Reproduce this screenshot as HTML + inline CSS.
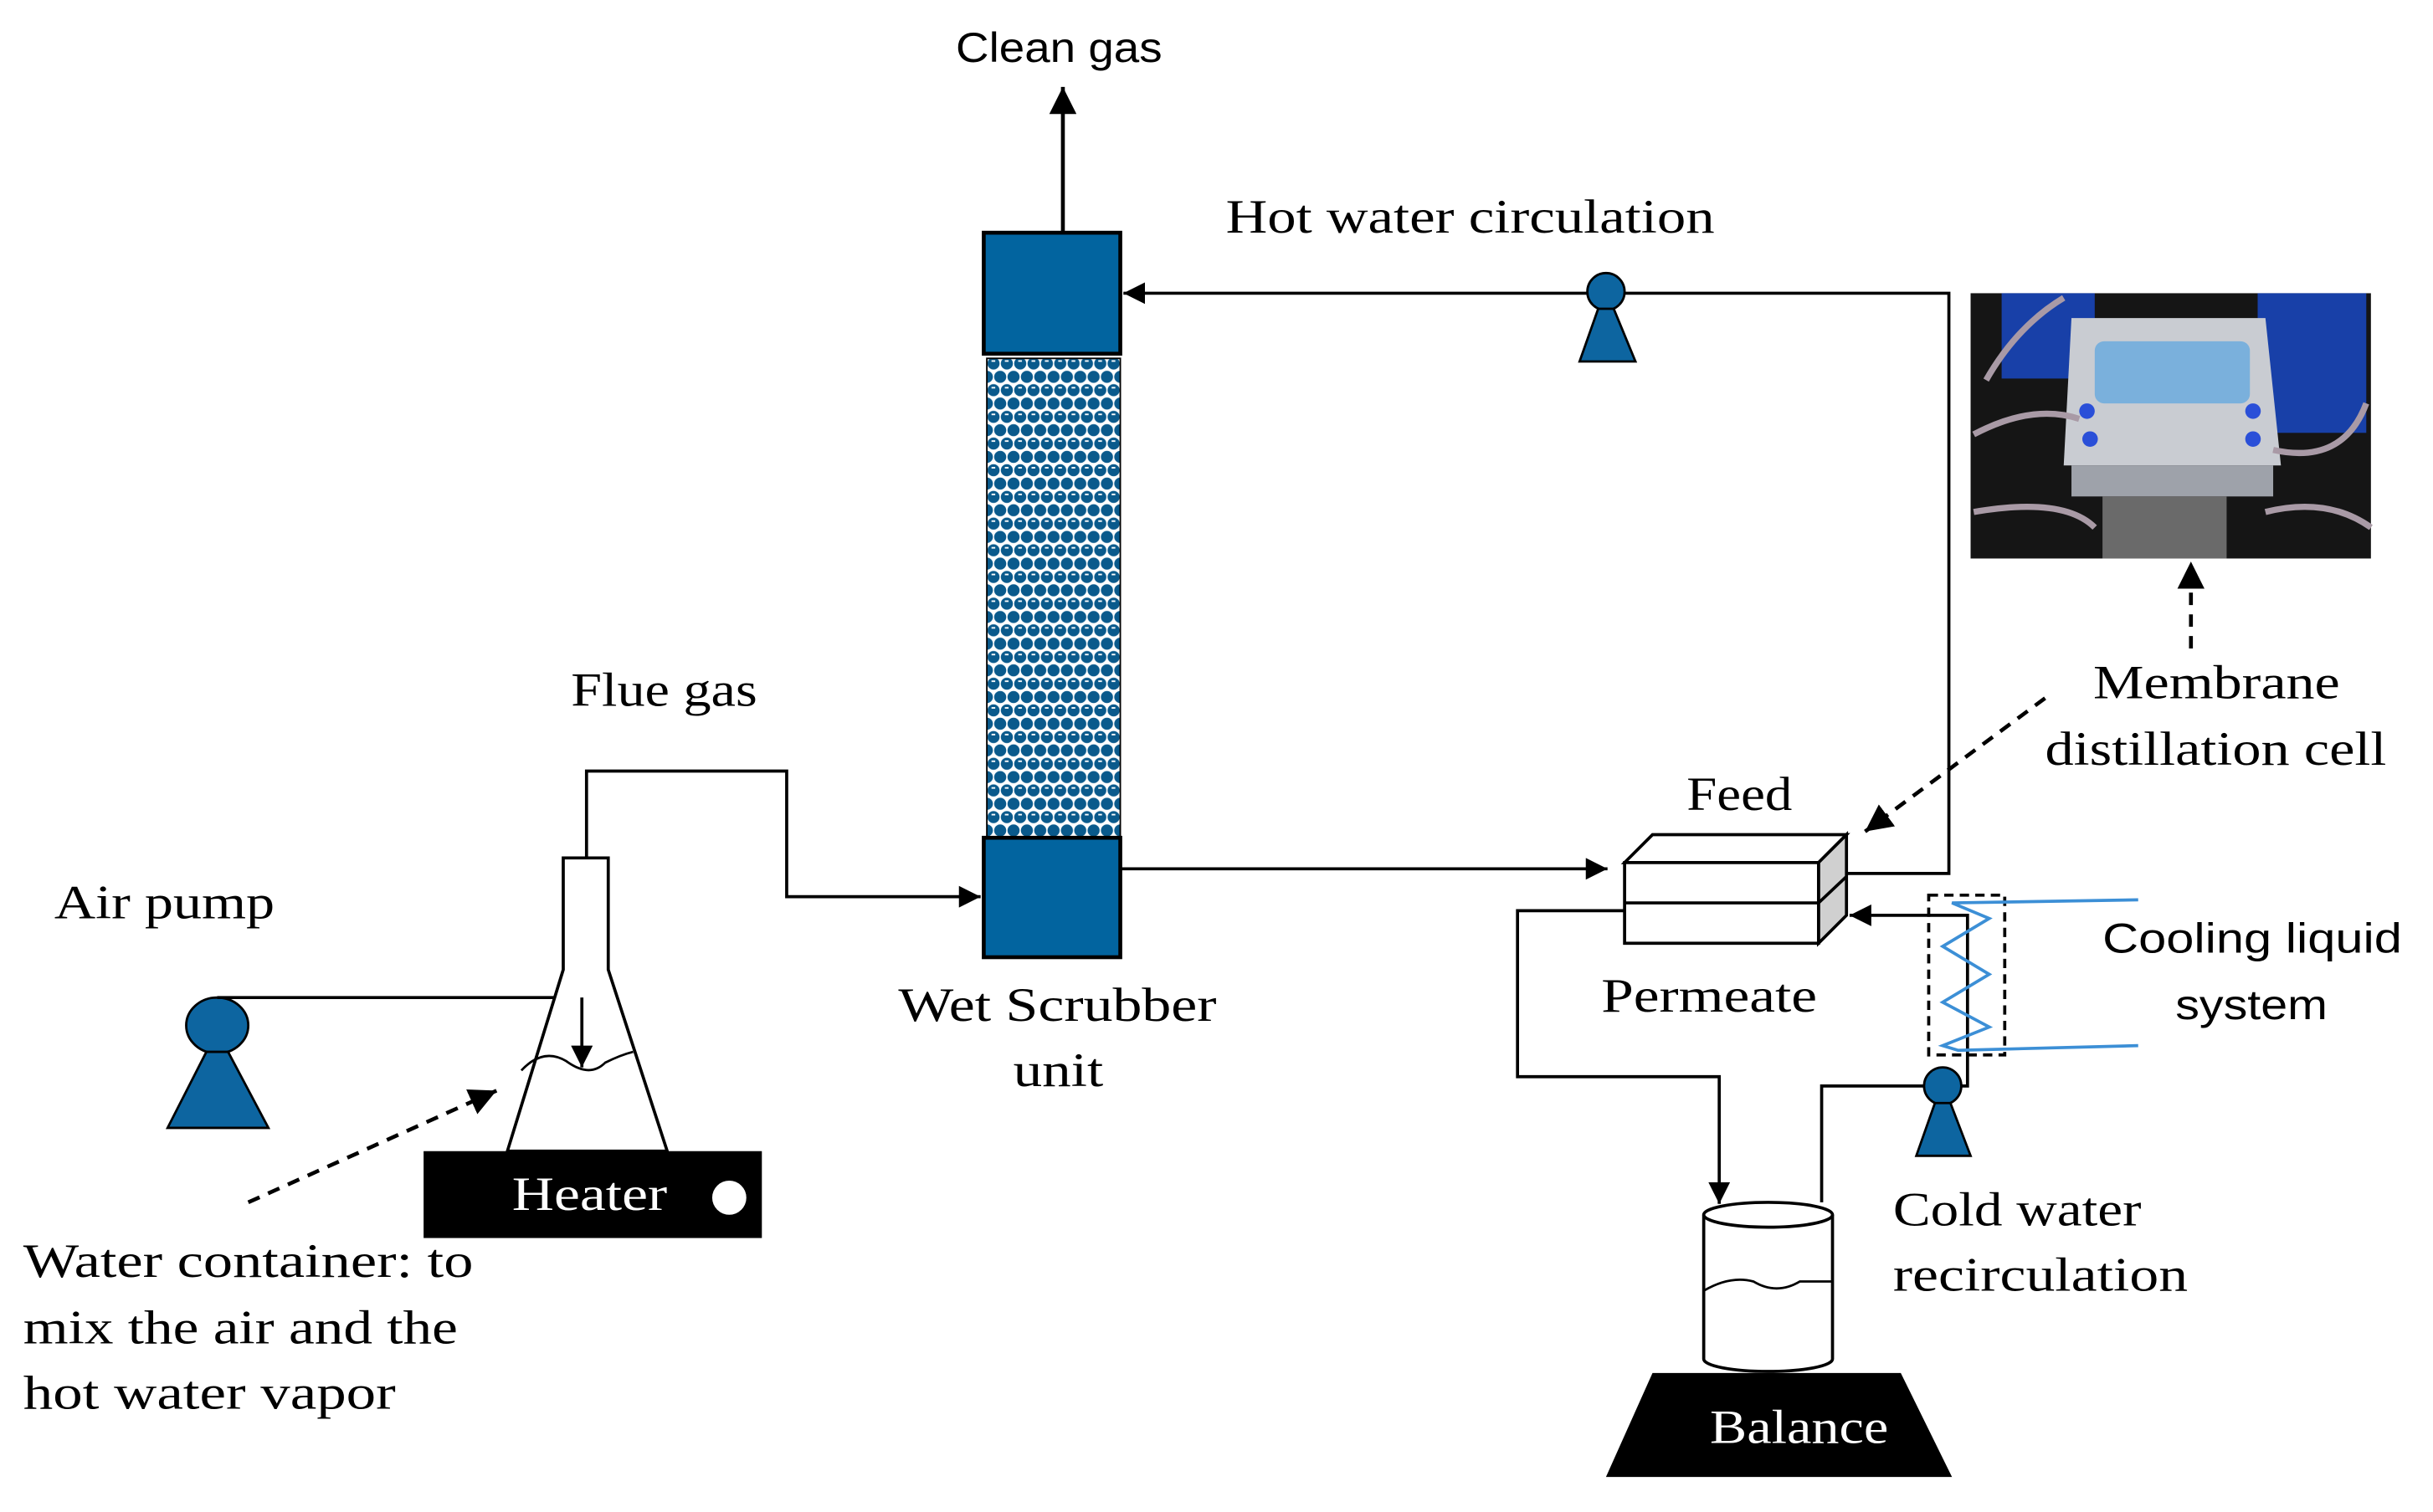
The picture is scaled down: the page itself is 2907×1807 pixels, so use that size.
<!DOCTYPE html>
<html><head><meta charset="utf-8"><style>html,body{margin:0;padding:0;background:#fff;}svg{display:block}</style></head>
<body>
<svg width="2907" height="1807" viewBox="0 0 1568 974.6" preserveAspectRatio="none" xmlns="http://www.w3.org/2000/svg">
<defs>
<marker id="ah" viewBox="0 0 10 10" refX="10" refY="5" markerWidth="7" markerHeight="7" orient="auto-start-reverse"><path d="M0,0 L10,5 L0,10 z" fill="#000"/></marker>
<pattern id="pk" width="8.6" height="17.2" patternUnits="userSpaceOnUse" x="636" y="230">
<rect width="8.6" height="17.2" fill="#fff"/>
<circle cx="4.3" cy="4.3" r="3.9" fill="#0a5a8c"/>
<circle cx="0" cy="12.9" r="3.9" fill="#0a5a8c"/>
<circle cx="8.6" cy="12.9" r="3.9" fill="#0a5a8c"/>
<rect x="3" y="2.2" width="2.4" height="1" fill="#fff"/>
</pattern>
</defs>
<g font-family="Liberation Serif, serif" font-size="31" fill="#000" lengthAdjust="spacingAndGlyphs">
<!-- scrubber -->
<line x1="685" y1="150" x2="685" y2="56" stroke="#000" stroke-width="2.5" marker-end="url(#ah)"/>
<text x="616" y="40" font-family="Liberation Sans, sans-serif" font-size="27" textLength="133" lengthAdjust="spacingAndGlyphs">Clean gas</text>
<rect x="634" y="150" width="88" height="78" fill="#02649f" stroke="#000" stroke-width="2.5"/>
<rect x="636" y="231" width="86" height="309" fill="url(#pk)" stroke="#000" stroke-width="1"/>
<rect x="634" y="540" width="88" height="77" fill="#02649f" stroke="#000" stroke-width="2.5"/>
<text x="579" y="658" textLength="205" lengthAdjust="spacingAndGlyphs">Wet Scrubber</text>
<text x="653" y="700" textLength="58" lengthAdjust="spacingAndGlyphs">unit</text>
<!-- hot loop -->
<polyline points="1172,563 1256,563 1256,189 724,189" fill="none" stroke="#000" stroke-width="2" marker-end="url(#ah)"/>
<text x="790" y="150" textLength="315" lengthAdjust="spacingAndGlyphs">Hot water circulation</text>
<circle cx="1035" cy="188" r="12" fill="#0d65a0" stroke="#000" stroke-width="1.5"/>
<polygon points="1030,199 1040,199 1054,233 1018,233" fill="#0d65a0" stroke="#000" stroke-width="1.5"/>
<line x1="722" y1="560" x2="1036" y2="560" stroke="#000" stroke-width="2" marker-end="url(#ah)"/>
<!-- photo -->
<rect x="1270" y="189" width="258" height="171" fill="#151515"/>
<rect x="1290" y="189" width="60" height="55" fill="#1840a8"/>
<rect x="1455" y="189" width="70" height="90" fill="#1840a8"/>
<polygon points="1335,205 1460,205 1470,300 1330,300" fill="#c9ccd2"/>
<rect x="1350" y="220" width="100" height="40" rx="6" fill="#7ab0dc"/>
<rect x="1335" y="300" width="130" height="20" fill="#9ea2aa"/>
<rect x="1355" y="320" width="80" height="40" fill="#6a6a6a"/>
<path d="M1272,280 Q1310,260 1340,270 M1272,330 Q1330,320 1350,340 M1465,290 Q1510,300 1525,260 M1460,330 Q1500,320 1528,340 M1280,245 Q1300,210 1330,192" stroke="#a99aa6" stroke-width="4" fill="none"/>
<circle cx="1345" cy="265" r="5" fill="#2a4fd8"/><circle cx="1347" cy="283" r="5" fill="#2a4fd8"/>
<circle cx="1452" cy="265" r="5" fill="#2a4fd8"/><circle cx="1452" cy="283" r="5" fill="#2a4fd8"/>
<line x1="1412" y1="418" x2="1412" y2="362" stroke="#000" stroke-width="2.5" stroke-dasharray="8,6" marker-end="url(#ah)"/>
<text x="1349" y="450" textLength="159" lengthAdjust="spacingAndGlyphs">Membrane</text>
<text x="1318" y="493" textLength="220" lengthAdjust="spacingAndGlyphs">distillation cell</text>
<line x1="1318" y1="450" x2="1202" y2="536" stroke="#000" stroke-width="2.5" stroke-dasharray="8,6" marker-end="url(#ah)"/>
<!-- MD cell -->
<text x="1087" y="522" textLength="68" lengthAdjust="spacingAndGlyphs">Feed</text>
<polygon points="1047,556 1065,538 1190,538 1172,556" fill="#fff" stroke="#000" stroke-width="2"/>
<polygon points="1172,556 1190,538 1190,590 1172,608" fill="#d0d0d0" stroke="#000" stroke-width="2"/>
<rect x="1047" y="556" width="125" height="52" fill="#fff" stroke="#000" stroke-width="2"/>
<line x1="1047" y1="582" x2="1172" y2="582" stroke="#000" stroke-width="2"/>
<line x1="1172" y1="582" x2="1190" y2="565" stroke="#000" stroke-width="2"/>
<text x="1032" y="652" textLength="139" lengthAdjust="spacingAndGlyphs">Permeate</text>
<polyline points="1047,587 978,587 978,694 1108,694 1108,776" fill="none" stroke="#000" stroke-width="2" marker-end="url(#ah)"/>
<polyline points="1174,775 1174,700 1268,700 1268,590 1192,590" fill="none" stroke="#000" stroke-width="2" marker-end="url(#ah)"/>
<rect x="1243" y="577" width="49" height="103" fill="none" stroke="#000" stroke-width="2" stroke-dasharray="6,4"/>
<polyline points="1378,580 1258,582 1282,592 1252,610 1282,628 1252,646 1282,662 1252,674 1262,677 1378,674" fill="none" stroke="#3c8fd6" stroke-width="2"/>
<text x="1355" y="614" font-family="Liberation Sans, sans-serif" font-size="27" textLength="193" lengthAdjust="spacingAndGlyphs">Cooling liquid</text>
<text x="1402" y="657" font-family="Liberation Sans, sans-serif" font-size="27" textLength="98" lengthAdjust="spacingAndGlyphs">system</text>
<circle cx="1252" cy="700" r="12" fill="#0d65a0" stroke="#000" stroke-width="1.5"/>
<polygon points="1247,711 1257,711 1270,745 1235,745" fill="#0d65a0" stroke="#000" stroke-width="1.5"/>
<text x="1220" y="790" textLength="160" lengthAdjust="spacingAndGlyphs">Cold water</text>
<text x="1220" y="832" textLength="190" lengthAdjust="spacingAndGlyphs">recirculation</text>
<!-- beaker -->
<path d="M1098,783 L1098,876 A41.5,8 0 0 0 1181,876 L1181,783" fill="#fff" stroke="#000" stroke-width="2"/>
<ellipse cx="1139.5" cy="783" rx="41.5" ry="8" fill="#fff" stroke="#000" stroke-width="2"/>
<path d="M1098,832 Q1115,822 1130,826 Q1145,835 1160,826 L1181,826" fill="none" stroke="#000" stroke-width="1.5"/>
<polygon points="1065,885 1225,885 1258,952 1035,952" fill="#000"/>
<text x="1102" y="930" fill="#fff" textLength="115" lengthAdjust="spacingAndGlyphs">Balance</text>
<!-- left side -->
<text x="35" y="592" textLength="142" lengthAdjust="spacingAndGlyphs">Air pump</text>
<ellipse cx="140" cy="661" rx="20" ry="18" fill="#0d65a0" stroke="#000" stroke-width="1.5"/>
<polygon points="133,678 147,678 173,727 108,727" fill="#0d65a0" stroke="#000" stroke-width="1.5"/>
<polyline points="140,643 375,643 375,688" fill="none" stroke="#000" stroke-width="2" marker-end="url(#ah)"/>
<polyline points="378,553 378,497 507,497 507,578 632,578" fill="none" stroke="#000" stroke-width="2" marker-end="url(#ah)"/>
<text x="368" y="455" textLength="120" lengthAdjust="spacingAndGlyphs">Flue gas</text>
<path d="M363,553 L392,553 L392,625 L430,742 L327,742 L363,625 Z" fill="#fff" stroke="#000" stroke-width="2"/>
<path d="M336,690 Q350,675 365,684 Q380,695 390,685 Q400,680 408,678" fill="none" stroke="#000" stroke-width="1.5"/>
<line x1="375" y1="643" x2="375" y2="688" stroke="#000" stroke-width="2" marker-end="url(#ah)"/>
<rect x="273" y="742" width="218" height="56" fill="#000"/>
<text x="330" y="780" fill="#fff" textLength="100" lengthAdjust="spacingAndGlyphs">Heater</text>
<circle cx="470" cy="772" r="11" fill="#fff"/>
<line x1="160" y1="775" x2="320" y2="703" stroke="#000" stroke-width="2.5" stroke-dasharray="8,6" marker-end="url(#ah)"/>
<text x="15" y="823" textLength="290" lengthAdjust="spacingAndGlyphs">Water container: to</text>
<text x="15" y="866" textLength="280" lengthAdjust="spacingAndGlyphs">mix the air and the</text>
<text x="15" y="908" textLength="240" lengthAdjust="spacingAndGlyphs">hot water vapor</text>
</g>
</svg>
</body></html>
